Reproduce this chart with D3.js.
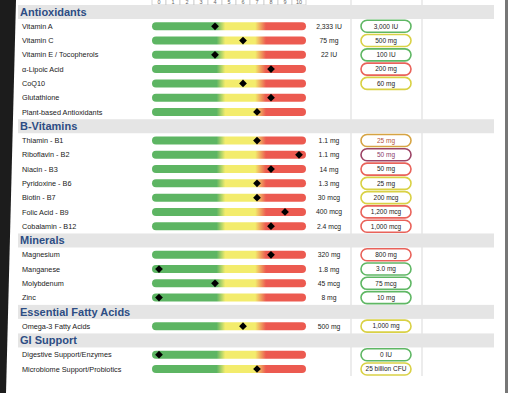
<!DOCTYPE html>
<html>
<head>
<meta charset="utf-8">
<script src="https://cdn.jsdelivr.net/npm/d3@7"></script>
<style>
  html, body { margin: 0; padding: 0; background: #fff; }
  svg { display: block; font-family: "Liberation Sans", Arial, sans-serif; }
</style>
</head>
<body>
<div id="chart"></div>
<script>
// section headings and the nutrients in each
const sections = ["Antioxidants", "B-Vitamins", "Minerals", "Essential Fatty Acids", "GI Support"];
const nutrients = [
  "Vitamin A", "Vitamin C", "Vitamin E / Tocopherols", "α-Lipoic Acid", "CoQ10", "Glutathione", "Plant-based Antioxidants",
  "Thiamin - B1", "Riboflavin - B2", "Niacin - B3", "Pyridoxine - B6", "Biotin - B7", "Folic Acid - B9", "Cobalamin - B12",
  "Magnesium", "Manganese", "Molybdenum", "Zinc",
  "Omega-3 Fatty Acids",
  "Digestive Support/Enzymes", "Microbiome Support/Probiotics"
];
const sectionOf = [0, 0, 0, 0, 0, 0, 0, 1, 1, 1, 1, 1, 1, 1, 2, 2, 2, 2, 3, 4, 4];
// score 0-10 (diamond)
const scores = [4, 6, 4, 8, 6, 8, 7, 7, 10, 8, 7, 7, 9, 8, 8, 0, 4, 0, 6, 0, 7];
// current intake
const amounts = ["2,333 IU", "75 mg", "22 IU", "", "", "", "",
  "1.1 mg", "1.1 mg", "14 mg", "1.3 mg", "30 mcg", "400 mcg", "2.4 mcg",
  "320 mg", "1.8 mg", "45 mcg", "8 mg", "500 mg", "", ""];
// recommended amount and its status
const targets = ["3,000 IU", "500 mg", "100 IU", "200 mg", "60 mg", "", "",
  "25 mg", "50 mg", "50 mg", "25 mg", "200 mcg", "1,200 mcg", "1,000 mcg",
  "800 mg", "3.0 mg", "75 mcg", "10 mg", "1,000 mg", "0 IU", "25 billion CFU"];
const targetStatus = ["good", "fair", "good", "poor", "fair", "", "",
  "amber", "plum", "poor", "fair", "fair", "poor", "poor",
  "poor", "good", "good", "good", "fair", "good", "fair"];
const tickLabels = [0, 1, 2, 3, 4, 5, 6, 7, 8, 9, 10];

const W = 508, H = 393;
const statusStroke = { good: "#5fb764", fair: "#d9d145", poor: "#e9625a", amber: "#d6a443", plum: "#9c4466" };
const statusText = { good: "#222", fair: "#222", poor: "#222", amber: "#b5553a", plum: "#8a3a6a" };

// build the line list: headers and nutrient rows in order
const lines = [];
sections.forEach((s, si) => {
  lines.push({ type: "header", id: "h" + si, label: s });
  nutrients.forEach((n, i) => {
    if (sectionOf[i] === si) lines.push({ type: "row", id: "r" + i, i: i });
  });
});

const svg = d3.select("#chart").append("svg")
  .attr("width", W).attr("height", H);

const y = d3.scalePoint().domain(lines.map(d => d.id)).range([12, 369]);
const x = d3.scaleLinear().domain([0, 10]).range([159, 299]);
const half = 7;

// dark frame at the edges
svg.append("path")
  .attr("d", "M0,0 L16,0 L6," + H + " L0," + H + " Z")
  .attr("fill", "#1c1c1c");
svg.append("rect").attr("x", 505).attr("y", 0).attr("width", 3).attr("height", H).attr("fill", "#777");

// column dividers
[351, 422].forEach(cx => {
  svg.append("line")
    .attr("x1", cx).attr("x2", cx).attr("y1", 0).attr("y2", 376)
    .attr("stroke", "#ececec").attr("stroke-width", 2);
});

// score tick boxes at the top
const ticks = svg.append("g");
ticks.selectAll("rect").data(tickLabels).enter().append("rect")
  .attr("x", d => x(d) - half).attr("y", -6).attr("width", 14).attr("height", 11)
  .attr("fill", "#fff").attr("stroke", "#c8c8c8").attr("stroke-width", 0.8);
ticks.selectAll("text").data(tickLabels).enter().append("text")
  .attr("x", d => x(d)).attr("y", 3.5)
  .attr("text-anchor", "middle").attr("font-size", 5.5).attr("fill", "#666")
  .text(d => d);

// gradient for the bars
const grad = svg.append("defs").append("linearGradient")
  .attr("id", "scoreGrad")
  .attr("gradientUnits", "userSpaceOnUse")
  .attr("x1", x(0) - half).attr("x2", x(10) + half).attr("y1", 0).attr("y2", 0);
[[0, "#5db563"], [0.42, "#5db563"], [0.475, "#f3ec6c"], [0.67, "#f3ec6c"], [0.74, "#ec5a50"], [1, "#ec5a50"]]
  .forEach(s => grad.append("stop").attr("offset", s[0]).attr("stop-color", s[1]));

// section header bands
const headers = svg.append("g").selectAll("g")
  .data(lines.filter(d => d.type === "header")).enter().append("g");
headers.append("rect")
  .attr("x", 18).attr("width", 476)
  .attr("y", d => y(d.id) - 7).attr("height", 14)
  .attr("fill", "#e5e5e5");
headers.append("text")
  .attr("x", 20).attr("y", d => y(d.id) + 4)
  .attr("font-size", 11).attr("font-weight", "bold").attr("fill", "#2d4d84")
  .text(d => d.label);

// nutrient rows
const rows = svg.append("g").selectAll("g")
  .data(lines.filter(d => d.type === "row")).enter().append("g")
  .attr("transform", d => `translate(0,${y(d.id)})`);

rows.append("text")
  .attr("x", 22).attr("y", 2.6)
  .attr("font-size", 7.3).attr("fill", "#1a1a1a")
  .text(d => nutrients[d.i]);

rows.append("rect")
  .attr("x", x(0) - half).attr("width", x(10) - x(0) + 2 * half)
  .attr("y", -4).attr("height", 8).attr("rx", 4)
  .attr("fill", "url(#scoreGrad)");

rows.append("path")
  .attr("d", d3.symbol(d3.symbolSquare, 30)())
  .attr("transform", d => `translate(${x(scores[d.i])},0) rotate(45)`)
  .attr("fill", "#000");

rows.append("text")
  .attr("x", 329).attr("y", 2.5)
  .attr("text-anchor", "middle").attr("font-size", 6.8).attr("fill", "#1a1a1a")
  .text(d => amounts[d.i]);

const pills = rows.filter(d => targets[d.i] !== "");
pills.append("rect")
  .attr("x", 361).attr("y", -6).attr("width", 50).attr("height", 12).attr("rx", 6)
  .attr("fill", "#fff")
  .attr("stroke", d => statusStroke[targetStatus[d.i]]).attr("stroke-width", 1.6);
pills.append("text")
  .attr("x", 386).attr("y", 2.3)
  .attr("text-anchor", "middle").attr("font-size", 6.5)
  .attr("fill", d => statusText[targetStatus[d.i]])
  .text(d => targets[d.i]);
</script>
</body>
</html>
